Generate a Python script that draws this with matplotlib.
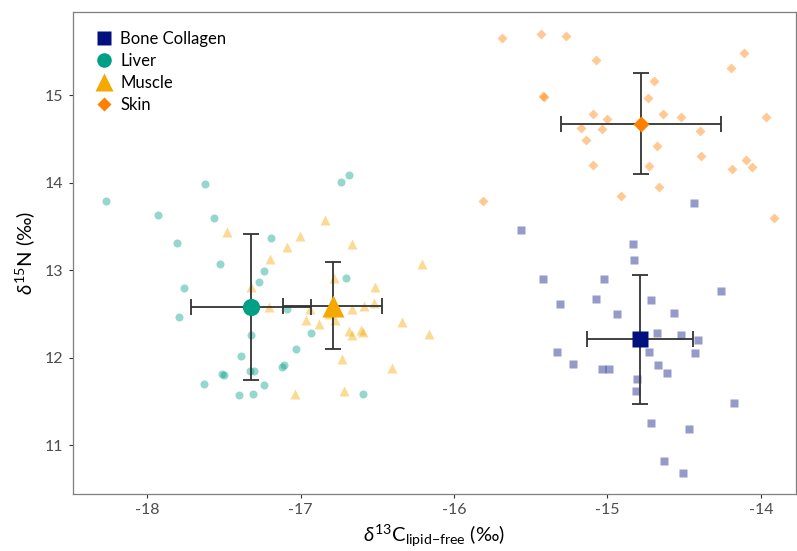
import matplotlib
matplotlib.use('Agg')
import matplotlib.pyplot as plt
from matplotlib.lines import Line2D
import numpy as np

# individual samples (d13C, d15N)
bone_x = [-14.434, -15.564, -14.836, -14.827, -15.418, -15.023, -14.262, -15.312, -15.077, -14.718,
          -14.567, -14.936, -14.675, -14.521, -14.408, -14.727, -14.432, -15.329, -15.223, -15.034,
          -14.992, -14.673, -14.614, -14.810, -14.814, -14.177, -14.714, -14.471, -14.630, -14.510]
bone_y = [13.77, 13.465, 13.30, 13.114, 12.897, 12.897, 12.763, 12.62, 12.676, 12.661,
          12.512, 12.497, 12.284, 12.257, 12.208, 12.066, 12.055, 12.066, 11.933, 11.876,
          11.869, 11.922, 11.83, 11.762, 11.617, 11.483, 11.26, 11.19, 10.817, 10.68]

liver_x = [-18.271, -17.626, -17.930, -17.567, -17.808, -17.196, -17.526, -17.241, -17.270, -17.763,
           -17.795, -17.087, -17.322, -16.935, -17.031, -17.387, -17.515, -17.500, -17.329, -17.306,
           -17.122, -17.109, -17.628, -17.241, -17.402, -17.309, -16.596, -16.737, -16.685, -16.705]
liver_y = [13.792, 13.986, 13.629, 13.598, 13.312, 13.366, 13.072, 12.992, 12.866, 12.802,
           12.471, 12.558, 12.257, 12.283, 12.105, 12.025, 11.819, 11.803, 11.853, 11.853,
           11.895, 11.914, 11.697, 11.694, 11.575, 11.583, 11.586, 14.006, 14.089, 12.912]

muscle_x = [-17.480, -17.005, -16.841, -16.668, -17.087, -17.200, -17.324, -16.783, -16.514, -17.209,
            -16.939, -16.818, -16.668, -16.587, -16.520, -16.967, -16.879, -16.776, -16.683, -16.668,
            -16.609, -16.592, -16.730, -17.040, -16.717, -16.206, -16.340, -16.166, -16.403]
muscle_y = [13.434, 13.389, 13.571, 13.305, 13.267, 13.133, 12.806, 12.909, 12.809, 12.581,
            12.562, 12.505, 12.562, 12.592, 12.631, 12.429, 12.383, 12.429, 12.306, 12.257,
            12.314, 12.295, 11.99, 11.59, 11.62, 13.076, 12.413, 12.276, 11.888]

skin_x = [-15.690, -15.433, -15.270, -15.077, -14.110, -14.193, -14.695, -15.414, -15.420, -14.738,
          -15.094, -15.003, -14.640, -14.518, -13.967, -15.173, -15.036, -14.397, -15.138, -14.677,
          -14.388, -14.099, -14.186, -14.060, -15.097, -14.731, -14.666, -14.910, -15.810, -13.913]
skin_y = [15.659, 15.705, 15.674, 15.408, 15.488, 15.309, 15.168, 14.98, 14.99, 14.966,
          14.786, 14.726, 14.783, 14.757, 14.757, 14.623, 14.611, 14.596, 14.493, 14.417,
          14.31, 14.265, 14.158, 14.177, 14.2, 14.189, 13.952, 13.853, 13.789, 13.602]

# group means and standard deviations
groups = ['Bone Collagen', 'Liver', 'Muscle', 'Skin']
mean_x = [-14.79, -17.324, -16.79, -14.78]
mean_y = [12.21, 12.58, 12.595, 14.676]
sd_x = [0.345, 0.393, 0.322, 0.52]
sd_y = [0.74, 0.829, 0.50, 0.575]

colors = ['#00117f', '#00a087', '#f5a800', '#ff8000']
markers = ['s', 'o', '^', 'D']
pt_size = [6.3, 5.8, 7.4, 4.6]
mean_size = [12.2, 12.4, 16.0, 8.6]

plt.rcParams['font.family'] = ['Lato', 'DejaVu Sans']
plt.rcParams['mathtext.fontset'] = 'custom'
plt.rcParams['mathtext.rm'] = 'Lato'
plt.rcParams['mathtext.it'] = 'Lato:italic'

fig = plt.figure(figsize=(7.97, 5.51), dpi=100)
ax = fig.add_axes([0.0912, 0.1029, 0.9078, 0.8751])

xs = [bone_x, liver_x, muscle_x, skin_x]
ys = [bone_y, liver_y, muscle_y, skin_y]
for i in range(4):
    ax.plot(xs[i], ys[i], linestyle='none', marker=markers[i], ms=pt_size[i],
            color=colors[i], alpha=0.42, mec='none', zorder=2)

for i in range(4):
    ax.errorbar(mean_x[i], mean_y[i], xerr=sd_x[i], yerr=sd_y[i], fmt='none',
                ecolor='#333333', elinewidth=1.3, capsize=5.5, capthick=1.3, zorder=3)
    ax.plot(mean_x[i], mean_y[i], linestyle='none', marker=markers[i], ms=mean_size[i],
            color=colors[i], mec='none', zorder=4)

ax.set_xlim(-18.486, -13.77)
ax.set_ylim(10.44, 15.95)
ax.set_xticks([-18, -17, -16, -15, -14])
ax.set_yticks([11, 12, 13, 14, 15])
ax.set_xticklabels(['-18', '-17', '-16', '-15', '-14'])
ax.tick_params(axis='both', labelsize=11.5, labelcolor='#4d4d4d', color='#333333',
               length=3, width=0.8)
for sp in ax.spines.values():
    sp.set_color('#7f7f7f')
    sp.set_linewidth(0.9)

ax.set_xlabel(r'$\delta^{13}$C$_{\mathrm{lipid{-}free}}$ (‰)', fontsize=14.5, labelpad=4)
ax.set_ylabel(r'$\delta^{15}$N (‰)', fontsize=14.5, labelpad=6)

handles = [Line2D([], [], linestyle='none', marker=markers[i], color=colors[i], mec='none',
                  ms=[10.5, 10.5, 13.0, 7.2][i]) for i in range(4)]
ax.legend(handles, groups, loc='upper left', bbox_to_anchor=(0.014, 0.985), frameon=False,
          fontsize=12, handletextpad=0.35, labelspacing=0.35, handlelength=1.2,
          borderaxespad=0.3)

fig.savefig('out.png', dpi=100)
